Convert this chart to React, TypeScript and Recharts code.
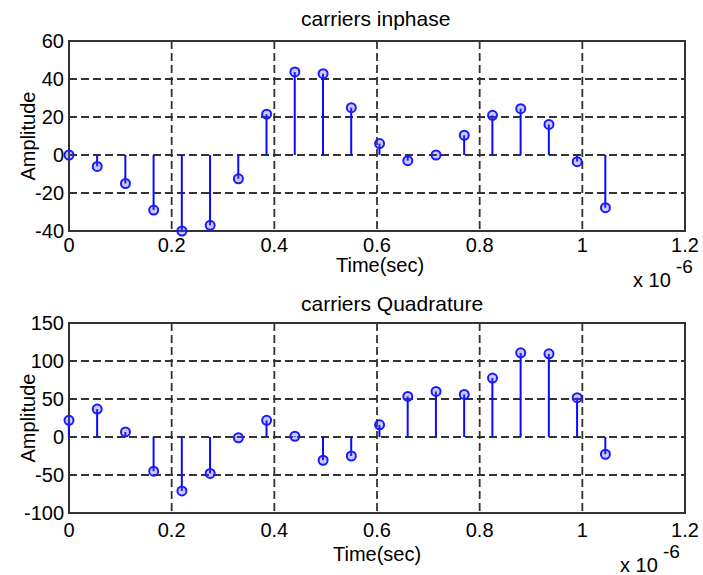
import { ComposedChart, Bar, Scatter, XAxis, YAxis, CartesianGrid, ReferenceArea, Customized } from 'recharts'

// time in units of 1e-6 sec
const time = [0, 0.055, 0.11, 0.165, 0.22, 0.275, 0.33, 0.385, 0.44, 0.495, 0.55, 0.605, 0.66, 0.715, 0.77, 0.825, 0.88, 0.935, 0.99, 1.045]
const inphase = [0, -6, -15, -29, -40, -37, -12.5, 21.5, 43.7, 42.8, 24.9, 6, -3, 0, 10.4, 20.9, 24.4, 16.1, -3.5, -27.7]
const quadrature = [22, 36.7, 6.6, -45, -71, -48, -1, 22, 1, -30.6, -25, 16, 53.4, 60, 56, 77.5, 110.7, 109.4, 51.7, -22.7]

const xTicks = [0, 0.2, 0.4, 0.6, 0.8, 1, 1.2]
const inphaseTicks = [-40, -20, 0, 20, 40, 60]
const quadTicks = [-100, -50, 0, 50, 100, 150]

const font = '"Liberation Sans", Arial, Helvetica, sans-serif'
const blue = '#0a0aff'

const Marker = (props: any) => {
  const { cx, cy } = props
  if (cx == null || cy == null) return null
  return <circle cx={cx} cy={cy} r={4.5} fill="rgba(80,80,255,0.3)" stroke="#1a1aff" strokeWidth={2} />
}

interface PanelProps {
  title: string
  values: number[]
  yTicks: number[]
  top: number
  height: number
  tickMargin: number
  titleY: number
  xLabelX: number
  xLabelY: number
  expX: number
  expY: number
}

function Panel({ title, values, yTicks, top, height, tickMargin, titleY, xLabelX, xLabelY, expX, expY }: PanelProps) {
  const data = time.map((t, i) => ({ t, v: values[i] }))
  const yMin = yTicks[0]
  const yMax = yTicks[yTicks.length - 1]

  return (
    <div style={{ position: 'absolute', left: 0, top }}>
      <ComposedChart width={703} height={height} data={data} margin={{ top: 41, right: 18, left: 0, bottom: height - 231 - 30 }}>
        <CartesianGrid strokeDasharray="8 4" stroke="#333" strokeWidth={1.8} horizontalValues={yTicks} verticalValues={xTicks} />
        <XAxis
          dataKey="t"
          type="number"
          domain={[0, 1.2]}
          ticks={xTicks}
          interval={0}
          height={30}
          axisLine={false}
          tickLine={false}
          tickMargin={tickMargin}
          tick={{ fontSize: 20, fill: '#000', fontFamily: font }}
          tickFormatter={(v) => String(v)}
          label={{
            content: () => (
              <text x={xLabelX} y={xLabelY} fontSize={20} fontFamily={font} fill="#000">Time(sec)</text>
            ),
          }}
        />
        <YAxis
          type="number"
          domain={[yMin, yMax]}
          ticks={yTicks}
          interval={0}
          width={69}
          axisLine={false}
          tickLine={false}
          tickSize={5}
          tickMargin={0}
          tick={{ fontSize: 20, fill: '#000', fontFamily: font }}
          label={{
            content: () => (
              <text x={28} y={136} transform="rotate(-90, 28, 136)" textAnchor="middle" dominantBaseline="central" fontSize={20} fontFamily={font} fill="#000">Amplitude</text>
            ),
          }}
        />
        <ReferenceArea x1={0} x2={1.2} y1={yMin} y2={yMax} fill="none" stroke="#333" strokeWidth={2} ifOverflow="visible" />
        <Bar dataKey="v" barSize={2} fill={blue} isAnimationActive={false} />
        <Scatter dataKey="v" shape={Marker} isAnimationActive={false} />
        <Customized
          component={() => (
            <g fontFamily={font} fill="#000">
              <text x={301} y={titleY} fontSize={21}>{title}</text>
              <text x={expX} y={expY} fontSize={20}>x 10</text>
              <text x={expX + 43} y={expY - 14} fontSize={19}>-6</text>
            </g>
          )}
        />
      </ComposedChart>
    </div>
  )
}

export default function App() {
  return (
    <div style={{ position: 'absolute', left: 0, top: 0, width: 703, height: 575, background: '#fff' }}>
      <Panel title="carriers inphase" values={inphase} yTicks={inphaseTicks} top={0} height={296} tickMargin={1} titleY={26} xLabelX={336} xLabelY={272} expX={633} expY={287} />
      <Panel title="carriers Quadrature" values={quadrature} yTicks={quadTicks} top={282} height={293} tickMargin={4} titleY={29} xLabelX={333} xLabelY={279} expX={620} expY={290} />
    </div>
  )
}
